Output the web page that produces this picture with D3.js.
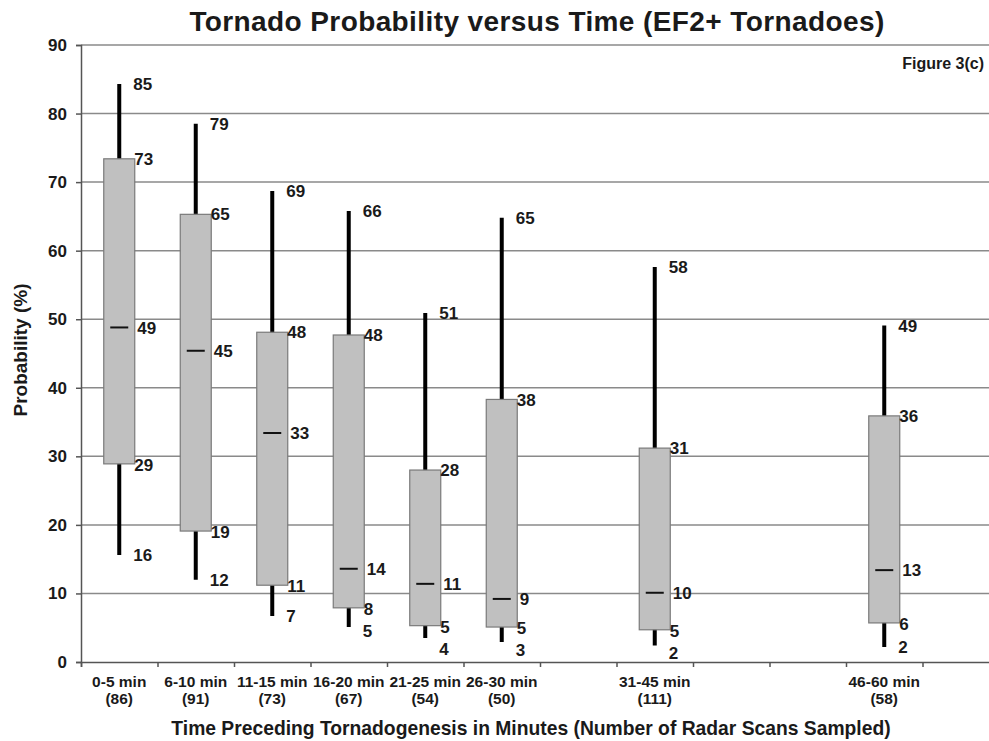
<!DOCTYPE html>
<html>
<head>
<meta charset="utf-8">
<script src="https://cdn.jsdelivr.net/npm/d3@7"></script>
<style>
  body { margin: 0; background: #fff; }
  text { font-family: "Liberation Sans", Arial, sans-serif; font-weight: bold; fill: #1a1a1a; }
</style>
</head>
<body>
<div id="chart"></div>
<script>
// categories (minutes preceding tornadogenesis) and sample counts
const categories = ["0-5 min", "6-10 min", "11-15 min", "16-20 min", "21-25 min", "26-30 min", "31-45 min", "46-60 min"];
const counts = ["(86)", "(91)", "(73)", "(67)", "(54)", "(50)", "(111)", "(58)"];
// center of each category on the minute axis
const centers = [2.5, 7.5, 12.5, 17.5, 22.5, 27.5, 37.5, 52.5];

// box values
const maxVals = [84.3, 78.5, 68.7, 65.8, 50.9, 64.8, 57.6, 49.1];
const q3Vals = [73.4, 65.3, 48.1, 47.7, 28.0, 38.3, 31.2, 35.9];
const medVals = [48.8, 45.4, 33.4, 13.6, 11.4, 9.2, 10.1, 13.4];
const q1Vals = [28.9, 19.1, 11.2, 7.9, 5.3, 5.1, 4.7, 5.7];
const minVals = [15.6, 12.0, 6.7, 5.1, 3.5, 2.9, 2.4, 2.2];

// printed labels
const maxLabels = [85, 79, 69, 66, 51, 65, 58, 49];
const q3Labels = [73, 65, 48, 48, 28, 38, 31, 36];
const medLabels = [49, 45, 33, 14, 11, 9, 10, 13];
const q1Labels = [29, 19, 11, 8, 5, 5, 5, 6];
const minLabels = [16, 12, 7, 5, 4, 3, 2, 2];

const yTicks = [0, 10, 20, 30, 40, 50, 60, 70, 80, 90];
const xTicks = d3.range(0, 65, 5);

const W = 989, H = 741;
const pLeft = 81, pTop = 45, pBottom = 662, pRight = 999;

const svg = d3.select("#chart").append("svg")
  .attr("width", W)
  .attr("height", H);

const x = d3.scaleLinear().domain([0, 60]).range([pLeft, pRight]);
const y = d3.scaleLinear().domain([0, 90]).range([pBottom, pTop]);

const data = categories.map((c, i) => ({
  cat: c, n: counts[i], c: centers[i],
  max: maxVals[i], q3: q3Vals[i], med: medVals[i], q1: q1Vals[i], min: minVals[i],
  lmax: maxLabels[i], lq3: q3Labels[i], lmed: medLabels[i], lq1: q1Labels[i], lmin: minLabels[i]
}));

// gridlines
svg.append("g")
  .selectAll("line")
  .data(yTicks.filter(d => d > 0))
  .enter()
  .append("line")
  .attr("x1", pLeft)
  .attr("x2", W)
  .attr("y1", d => y(d))
  .attr("y2", d => y(d))
  .attr("stroke", "#8a8a8a")
  .attr("stroke-width", 1.5);

// y axis
const yAxis = svg.append("g")
  .attr("transform", "translate(" + pLeft + ",0)")
  .call(d3.axisLeft(y).tickValues(yTicks).tickSize(5).tickPadding(9));
yAxis.select(".domain").attr("stroke", "#555").attr("stroke-width", 1.5);
yAxis.selectAll(".tick line").attr("stroke", "#555").attr("stroke-width", 1.5);
yAxis.selectAll("text")
  .attr("font-size", "17px")
  .attr("font-family", "Liberation Sans, Arial, sans-serif")
  .attr("font-weight", "bold")
  .attr("fill", "#1a1a1a");

// x axis
const xAxis = svg.append("g")
  .attr("transform", "translate(0," + pBottom + ")")
  .call(d3.axisBottom(x).tickValues(xTicks).tickSize(5).tickFormat(""));
xAxis.select(".domain").attr("stroke", "#555").attr("stroke-width", 1.5);
xAxis.selectAll(".tick line").attr("stroke", "#555").attr("stroke-width", 1.5);

// category labels
const cats = svg.append("g")
  .selectAll("text")
  .data(data)
  .enter()
  .append("text")
  .attr("x", d => x(d.c))
  .attr("y", 687)
  .attr("text-anchor", "middle")
  .attr("font-size", "15.5px");
cats.append("tspan").attr("x", d => x(d.c)).text(d => d.cat);
cats.append("tspan").attr("x", d => x(d.c)).attr("dy", 17).text(d => d.n);

const boxW = 31;

// whiskers
svg.append("g")
  .selectAll("line")
  .data(data)
  .enter()
  .append("line")
  .attr("x1", d => x(d.c))
  .attr("x2", d => x(d.c))
  .attr("y1", d => y(d.max))
  .attr("y2", d => y(d.min))
  .attr("stroke", "#000")
  .attr("stroke-width", 4);

// boxes
svg.append("g")
  .selectAll("rect")
  .data(data)
  .enter()
  .append("rect")
  .attr("x", d => x(d.c) - boxW / 2)
  .attr("width", boxW)
  .attr("y", d => y(d.q3))
  .attr("height", d => y(d.q1) - y(d.q3))
  .attr("fill", "#c0c0c0")
  .attr("stroke", "#7a7a7a")
  .attr("stroke-width", 1.2);

// medians
svg.append("g")
  .selectAll("line")
  .data(data)
  .enter()
  .append("line")
  .attr("x1", d => x(d.c) - 9)
  .attr("x2", d => x(d.c) + 9)
  .attr("y1", d => y(d.med))
  .attr("y2", d => y(d.med))
  .attr("stroke", "#111")
  .attr("stroke-width", 2);

// value labels
const labels = svg.append("g");
function addLabels(key, val, dx, yFn) {
  labels.append("g")
    .selectAll("text")
    .data(data)
    .enter()
    .append("text")
    .attr("x", d => x(d.c) + dx)
    .attr("y", yFn || (d => y(d[val])))
    .attr("dy", "0.36em")
    .attr("font-size", "17px")
    .text(d => d[key]);
}
addLabels("lmax", "max", 14);
addLabels("lq3", "q3", boxW / 2 - 0.5);
addLabels("lmed", "med", 18);
addLabels("lq1", "q1", boxW / 2 - 0.5, d => y(d.q1) + 1);
addLabels("lmin", "min", 14, d => Math.max(y(d.min), y(d.q1) + 23));

// titles
svg.append("text")
  .attr("x", 537)
  .attr("y", 31)
  .attr("text-anchor", "middle")
  .attr("font-size", "28px")
  .attr("letter-spacing", "0.4px")
  .text("Tornado Probability versus Time (EF2+ Tornadoes)");

svg.append("text")
  .attr("x", 984)
  .attr("y", 69)
  .attr("text-anchor", "end")
  .attr("font-size", "16px")
  .text("Figure 3(c)");

svg.append("text")
  .attr("transform", "translate(27,350) rotate(-90)")
  .attr("text-anchor", "middle")
  .attr("font-size", "19px")
  .text("Probability (%)");

svg.append("text")
  .attr("x", 531)
  .attr("y", 735)
  .attr("text-anchor", "middle")
  .attr("font-size", "19.3px")
  .text("Time Preceding Tornadogenesis in Minutes (Number of Radar Scans Sampled)");
</script>
</body>
</html>
